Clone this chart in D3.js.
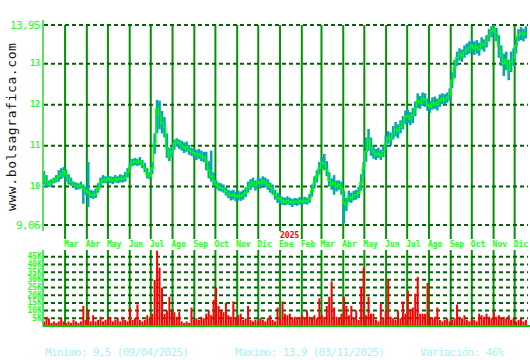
<!DOCTYPE html>
<html lang="es">
<head>
<meta charset="UTF-8" />
<title>bolsagrafica</title>
<style>
  body { margin: 0; background: #fff; }
  svg { display: block; }
  text { font-family: "DejaVu Sans Mono", monospace; }
  .grid line { stroke: #006400; stroke-width: 2px; stroke-dasharray: 4,3; }
  .grid path { display: none; }
  .months line { stroke: #009400; stroke-width: 2px; }
  .months path { display: none; }
  .axis-line { stroke: #22dd22; stroke-width: 1.5px; }
  .base-line { stroke: #00cc00; stroke-width: 2px; }
  .small-label { font-size: 8px; font-weight: bold; fill: #22ff22; }
  .big-label { font-size: 11px; letter-spacing: -0.6px; fill: #22ff22; }
  .range-bar { fill: #00a8b0; }
  .close-line { fill: none; stroke: #00ff00; stroke-width: 1.5px; }
  .vol-bar { fill: #ff0000; }
  .summary { font-size: 11px; letter-spacing: -0.65px; fill: #a8f0f8; }
  .site { font-size: 13px; letter-spacing: 0.6px; fill: #111; }
</style>
</head>
<body>
<script src="https://cdn.jsdelivr.net/npm/d3@7"></script>
<script>

// data: one point every 3.5 days starting 31/01/2024
var startDate = new Date(Date.UTC(2024, 0, 31));
var endDate = new Date(Date.UTC(2025, 11, 20));

var closes = [
  10.27, 10.12, 10.05, 10.08, 10.15, 10.18, 10.25, 10.32, 10.38, 10.30,
  10.18, 10.12, 10.05, 10.02, 10.00, 10.03, 9.95, 9.90, 9.85, 9.80,
  9.78, 9.82, 9.95, 10.10, 10.18, 10.15, 10.20, 10.17, 10.15, 10.19,
  10.16, 10.20, 10.18, 10.22, 10.35, 10.50, 10.58, 10.62, 10.60, 10.63,
  10.55, 10.45, 10.30, 10.25, 10.45, 11.05, 11.90, 11.75, 11.55, 11.45,
  10.95, 10.72, 10.85, 11.05, 11.10, 11.05, 11.00, 10.95, 10.98, 10.90,
  10.85, 10.82, 10.78, 10.80, 10.75, 10.72, 10.60, 10.40, 10.25, 10.15,
  10.05, 10.00, 9.97, 9.95, 9.88, 9.82, 9.78, 9.80, 9.75, 9.78,
  9.76, 9.80, 9.85, 9.98, 10.05, 10.10, 10.02, 10.12, 10.08, 10.15,
  10.10, 10.05, 9.98, 9.92, 9.80, 9.72, 9.70, 9.65, 9.62, 9.66,
  9.63, 9.60, 9.64, 9.62, 9.65, 9.63, 9.66, 9.64, 9.70, 9.90,
  10.10, 10.25, 10.45, 10.60, 10.55, 10.40, 10.15, 10.05, 10.10, 10.00,
  10.05, 9.95, 9.60, 9.55, 9.75, 9.72, 9.78, 9.80, 9.85, 10.10,
  10.45, 10.85, 11.15, 10.95, 10.85, 10.78, 10.80, 10.75, 10.85, 11.05,
  11.20, 11.15, 11.30, 11.40, 11.35, 11.45, 11.55, 11.70, 11.72, 11.65,
  11.75, 11.90, 12.10, 12.05, 12.15, 12.12, 12.00, 11.95, 12.02, 12.05,
  12.00, 12.10, 12.15, 12.12, 12.18, 12.25, 12.60, 12.90, 13.15, 13.25,
  13.20, 13.30, 13.35, 13.40, 13.45, 13.38, 13.42, 13.35, 13.50, 13.45,
  13.55, 13.70, 13.80, 13.85, 13.75, 13.45, 13.20, 13.00, 13.10, 12.85,
  13.05, 13.15, 13.45, 13.70, 13.75, 13.72, 13.78
];

var highs = [
  10.38, 10.28, 10.15, 10.18, 10.22, 10.28, 10.40, 10.45, 10.48, 10.42,
  10.30, 10.22, 10.12, 10.10, 10.08, 10.12, 10.05, 10.00, 10.60, 9.92,
  9.90, 9.95, 10.08, 10.22, 10.28, 10.25, 10.28, 10.25, 10.24, 10.28,
  10.25, 10.30, 10.28, 10.35, 10.45, 10.62, 10.68, 10.70, 10.68, 10.72,
  10.65, 10.58, 10.45, 10.35, 10.60, 11.30, 12.12, 12.10, 11.85, 11.70,
  11.30, 10.95, 10.98, 11.15, 11.18, 11.15, 11.12, 11.08, 11.10, 11.02,
  10.95, 10.92, 10.90, 10.92, 10.88, 10.85, 10.85, 10.62, 10.88, 10.35,
  10.15, 10.10, 10.08, 10.05, 9.98, 9.92, 9.90, 9.92, 9.88, 9.90,
  9.88, 9.92, 9.98, 10.12, 10.18, 10.22, 10.15, 10.22, 10.20, 10.25,
  10.22, 10.18, 10.10, 10.05, 9.92, 9.85, 9.82, 9.75, 9.73, 9.76,
  9.73, 9.70, 9.72, 9.71, 9.74, 9.72, 9.75, 9.73, 9.82, 10.05,
  10.25, 10.40, 10.60, 10.72, 10.80, 10.62, 10.35, 10.20, 10.28, 10.15,
  10.15, 10.12, 9.90, 9.72, 9.90, 9.85, 9.90, 9.92, 10.00, 10.30,
  10.60, 11.20, 11.41, 11.20, 11.00, 10.92, 10.95, 10.90, 11.00, 11.25,
  11.35, 11.32, 11.48, 11.58, 11.52, 11.62, 11.72, 11.86, 11.88, 11.82,
  11.92, 12.08, 12.28, 12.22, 12.30, 12.28, 12.15, 12.10, 12.18, 12.20,
  12.15, 12.25, 12.28, 12.26, 12.30, 12.40, 12.80, 13.10, 13.30, 13.38,
  13.35, 13.45, 13.50, 13.55, 13.62, 13.55, 13.58, 13.52, 13.65, 13.60,
  13.70, 13.85, 13.92, 13.95, 13.88, 13.70, 13.45, 13.25, 13.30, 13.10,
  13.30, 13.38, 13.65, 13.85, 13.90, 13.86, 13.92
];

var lows = [
  10.05, 9.98, 9.99, 10.00, 10.08, 10.10, 10.12, 10.18, 10.22, 10.12,
  10.05, 10.02, 9.97, 9.92, 9.93, 9.95, 9.58, 9.80, 9.50, 9.72,
  9.70, 9.72, 9.85, 9.98, 10.08, 10.08, 10.10, 10.08, 10.06, 10.10,
  10.08, 10.10, 10.10, 10.12, 10.22, 10.40, 10.50, 10.52, 10.50, 10.52,
  10.45, 10.35, 10.20, 10.18, 10.30, 10.80, 11.30, 11.40, 11.30, 11.20,
  10.70, 10.62, 10.70, 10.90, 10.98, 10.92, 10.88, 10.82, 10.85, 10.78,
  10.75, 10.70, 10.65, 10.68, 10.62, 10.60, 10.40, 10.20, 10.12, 10.02,
  9.95, 9.90, 9.88, 9.85, 9.78, 9.72, 9.66, 9.68, 9.64, 9.66,
  9.65, 9.68, 9.74, 9.85, 9.92, 9.98, 9.90, 9.98, 9.95, 10.02,
  9.98, 9.92, 9.85, 9.80, 9.68, 9.60, 9.58, 9.55, 9.54, 9.56,
  9.54, 9.50, 9.55, 9.53, 9.56, 9.54, 9.57, 9.56, 9.60, 9.75,
  9.95, 10.10, 10.30, 10.45, 10.40, 10.25, 10.00, 9.92, 9.80, 9.88,
  9.92, 9.80, 9.10, 9.40, 9.62, 9.60, 9.66, 9.68, 9.72, 9.90,
  10.25, 10.60, 10.88, 10.75, 10.68, 10.65, 10.70, 10.65, 10.72, 10.90,
  11.05, 11.00, 11.15, 11.22, 11.18, 11.30, 11.40, 11.52, 11.55, 11.50,
  11.55, 11.72, 11.92, 11.90, 11.98, 11.95, 11.85, 11.80, 11.88, 11.90,
  11.86, 11.95, 12.02, 12.00, 12.05, 12.10, 12.40, 12.65, 12.95, 13.08,
  13.05, 13.15, 13.22, 13.25, 13.30, 13.22, 13.25, 13.20, 13.35, 13.30,
  13.40, 13.55, 13.65, 13.72, 13.55, 13.15, 12.95, 12.70, 12.85, 12.60,
  12.80, 12.95, 13.25, 13.55, 13.58, 13.55, 13.62
];

// volume in thousands
var volumes = [
  3, 6, 5, 2, 3, 2, 3, 5, 3, 2,
  3, 2, 4, 3, 2, 3, 13, 4, 10, 3,
  7, 3, 4, 6, 3, 4, 5, 6, 3, 4,
  5, 3, 6, 4, 3, 12, 4, 5, 14, 4,
  3, 4, 7, 5, 8, 30, 49, 38, 25, 8,
  10, 19, 10, 9, 6, 9, 3, 2, 3, 2,
  12, 4, 5, 4, 6, 5, 8, 10, 7, 17,
  25, 13, 10, 9, 15, 7, 6, 16, 5, 7,
  8, 4, 5, 13, 4, 3, 4, 3, 5, 4,
  3, 5, 7, 4, 3, 12, 5, 16, 8, 7,
  8, 5, 6, 5, 6, 7, 5, 10, 6, 5,
  7, 5, 18, 7, 6, 13, 19, 29, 12, 6,
  5, 8, 19, 13, 7, 13, 5, 10, 4, 25,
  38, 7, 19, 8, 8, 4, 3, 15, 5, 10,
  30, 6, 5, 4, 10, 5, 16, 8, 23, 11,
  12, 21, 32, 8, 8, 8, 28, 6, 5, 6,
  12, 4, 3, 4, 5, 3, 4, 5, 14, 6,
  5, 7, 4, 3, 5, 4, 3, 8, 7, 6,
  8, 6, 5, 9, 6, 7, 5, 6, 5, 7,
  4, 5, 3, 4, 5, 3, 4
];

var monthNames = ["Ene", "Feb", "Mar", "Abr", "May", "Jun", "Jul", "Ago", "Sep", "Oct", "Nov", "Dic"];
var priceTicks = [9.06, 10, 11, 12, 13, 13.95];
var volumeTicks = [5, 10, 15, 20, 25, 30, 35, 40, 45];
var yearLabel = "2025";
var summaryTexts = ["Minimo: 9,5 (09/04/2025)", "Maximo: 13,9 (03/11/2025)", "Variación: 46%"];
var siteName = "www.bolsagrafica.com";


var w = 530, h = 360;
var left = 44, right = 528;
var priceTop = 25, priceBottom = 225;
var volTop = 250, volBottom = 326;

var svg = d3.select("body").append("svg")
  .attr("width", w)
  .attr("height", h);

// point dates
var dates = closes.map(function(d, i) {
  return d3.utcHour.offset(startDate, i * 84);
});

var xScale = d3.scaleUtc()
  .domain([startDate, endDate])
  .range([left, right]);

var yScale = d3.scaleLinear()
  .domain([9.06, 13.95])
  .range([priceBottom, priceTop]);

var vScale = d3.scaleLinear()
  .domain([0, 49.4])
  .range([volBottom, volTop]);

var monthStarts = d3.utcMonth.range(new Date(Date.UTC(2024, 2, 1)), endDate);

// month lines, price part
var monthAxis = d3.axisBottom(xScale)
  .tickValues(monthStarts)
  .tickSizeInner(-(239 - priceTop))
  .tickSizeOuter(0)
  .offset(0)
  .tickFormat(function(d) { return monthNames[d.getUTCMonth()]; });

var mg = svg.append("g")
  .attr("class", "months")
  .attr("transform", "translate(0," + 239 + ")")
  .call(monthAxis);

mg.selectAll("text")
  .attr("class", "small-label")
  .attr("text-anchor", "start")
  .attr("x", -1)
  .attr("y", 8)
  .attr("dy", 0);

// month lines, volume part
svg.append("g")
  .attr("class", "months")
  .attr("transform", "translate(0," + volBottom + ")")
  .call(d3.axisBottom(xScale).tickValues(monthStarts).offset(0)
    .tickSizeInner(-(volBottom - volTop)).tickSizeOuter(0).tickFormat(""));

// price grid + labels
var pg = svg.append("g")
  .attr("class", "grid")
  .attr("transform", "translate(" + left + ",0)")
  .call(d3.axisLeft(yScale)
    .tickValues(priceTicks)
    .tickSizeInner(-(right - left))
    .tickSizeOuter(0)
    .tickPadding(4)
    .offset(0)
    .tickFormat(function(d) { return Number.isInteger(d) ? d : d.toFixed(2).replace(".", ","); }));

pg.selectAll("text")
  .attr("class", function(d) { return Number.isInteger(d) ? "small-label" : "big-label"; });

// volume grid + labels
var vg = svg.append("g")
  .attr("class", "grid")
  .attr("transform", "translate(" + left + ",0)")
  .call(d3.axisLeft(vScale)
    .tickValues(volumeTicks)
    .tickSizeInner(-(right - left))
    .tickSizeOuter(0)
    .tickPadding(2)
    .offset(0)
    .tickFormat(function(d) { return d + "K"; }));

vg.selectAll("text").attr("class", "small-label");

// year marker
var yearX = xScale(new Date(Date.UTC(2025, 0, 1)));
svg.append("rect")
  .attr("x", yearX - 1)
  .attr("y", 231)
  .attr("width", 20)
  .attr("height", 8)
  .attr("fill", "#fff");

svg.append("text")
  .attr("class", "small-label")
  .attr("x", yearX)
  .attr("y", 238)
  .style("fill", "#ff0000")
  .text(yearLabel);

// volume bars
svg.selectAll(".vol-bar")
  .data(volumes)
  .enter()
  .append("rect")
  .attr("class", "vol-bar")
  .attr("x", function(d, i) { return xScale(dates[i]) - 1; })
  .attr("y", function(d) { return vScale(d); })
  .attr("width", 2)
  .attr("height", function(d) { return volBottom - vScale(d); });

// high-low bars
svg.selectAll(".range-bar")
  .data(closes)
  .enter()
  .append("rect")
  .attr("class", "range-bar")
  .attr("x", function(d, i) { return xScale(dates[i]) - 1.25; })
  .attr("y", function(d, i) { return yScale(highs[i]); })
  .attr("width", 2.5)
  .attr("height", function(d, i) { return Math.max(1, yScale(lows[i]) - yScale(highs[i])); });

// close line
var line = d3.line()
  .x(function(d, i) { return xScale(dates[i]); })
  .y(function(d) { return yScale(d); })
  .curve(d3.curveStep);

svg.append("path")
  .datum(closes)
  .attr("class", "close-line")
  .attr("d", line);

// left axis lines and volume base
svg.append("line").attr("class", "axis-line")
  .attr("x1", 43).attr("x2", 43).attr("y1", 20).attr("y2", 231);
svg.append("line").attr("class", "axis-line")
  .attr("x1", 43).attr("x2", 43).attr("y1", volTop).attr("y2", volBottom);
svg.append("line").attr("class", "base-line")
  .attr("x1", 43).attr("x2", 530).attr("y1", volBottom).attr("y2", volBottom);

// summary line
var summaryX = [45, 235, 420];
svg.selectAll(".summary")
  .data(summaryTexts)
  .enter()
  .append("text")
  .attr("class", "summary")
  .attr("x", function(d, i) { return summaryX[i]; })
  .attr("y", 356)
  .text(function(d) { return d; });

// site name, vertical
svg.append("text")
  .attr("class", "site")
  .attr("transform", "translate(16,211) rotate(-90)")
  .text(siteName);

</script>
</body>
</html>
